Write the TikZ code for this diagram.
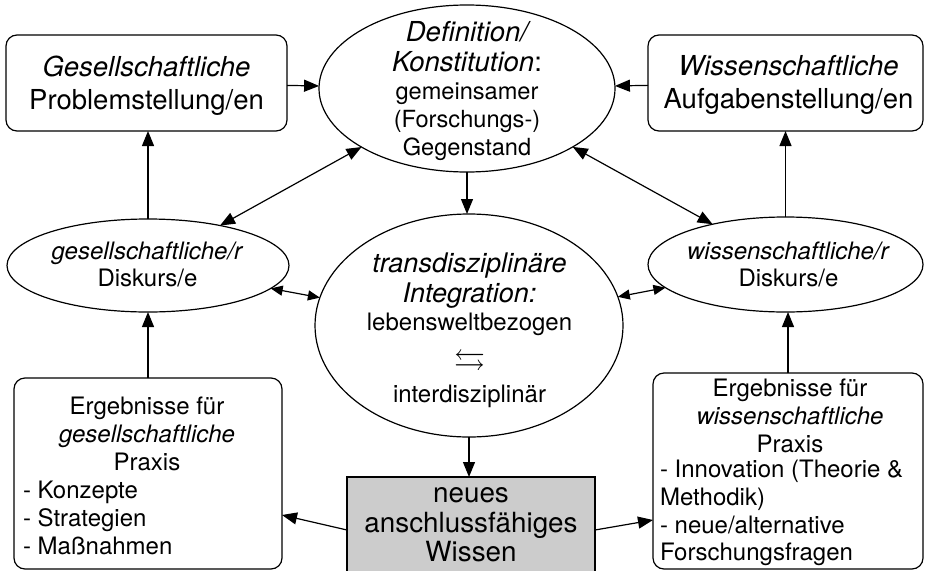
\documentclass[tikz,border=0pt]{standalone}
\usepackage{amssymb}
\usepackage{fontspec}
\setmainfont{TeX Gyre Heros}
\usetikzlibrary{arrows.meta,shapes.geometric}

\begin{document}
\begin{tikzpicture}[x=1pt,y=-1pt,
  every node/.style={inner sep=0pt, outer sep=0pt},
  shapeline/.style={draw, line width=1.2pt},
  oval/.style={shapeline, ellipse},
  rbox/.style={shapeline, rectangle, rounded corners=11pt},
  txt/.style={align=center, anchor=north},
  listtxt/.style={align=left, anchor=north west},
  arr/.style={line width=1.2pt, -{Triangle[length=15pt,width=12pt]}},
  darr/.style={line width=1.2pt, {Triangle[length=15pt,width=12pt]}-{Triangle[length=15pt,width=12pt]}},
  sdarr/.style={line width=1.2pt, {Triangle[length=12pt,width=10pt]}-{Triangle[length=12pt,width=10pt]}}
]
\useasboundingbox (0,0) rectangle (925,570);

% shapes
\node[oval, minimum width=296pt, minimum height=167pt] (def) at (467,88.5) {};
\node[oval, minimum width=308pt, minimum height=223pt] (mid) at (469,325.5) {};
\node[oval, minimum width=282pt, minimum height=93pt] (gd) at (148,265.5) {};
\node[oval, minimum width=275pt, minimum height=95pt] (wd) at (785.5,264.5) {};
\node[rbox, minimum width=281pt, minimum height=96pt] (tl) at (146.5,83) {};
\node[rbox, minimum width=275pt, minimum height=96pt] (tr) at (785.5,83) {};
\node[rbox, minimum width=268pt, minimum height=191pt] (bl) at (148,473.5) {};
\node[rbox, minimum width=270pt, minimum height=196pt] (br) at (788,471) {};
\node[shapeline, fill=gray!40, minimum width=248pt, minimum height=98pt] (gray) at (471,526) {};

% texts
\node[txt, font=\fontsize{27.5}{33}\selectfont] (tlT) at (146.5,55.7)
  {\textit{Gesellschaftliche}\\Problemstellung/en};
\node[txt, font=\fontsize{27.5}{33}\selectfont] (trT) at (788.5,55.7)
  {\textit{Wissenschaftliche}\\Aufgabenstellung/en};
\node[txt, font=\fontsize{23.6}{28}\selectfont] (defT) at (467,21.7)
  {{\fontsize{27.5}{28}\selectfont\itshape Definition/}\\[2pt]
   {\fontsize{27.5}{28}\selectfont\textit{Konstitution}:}\\
   gemeinsamer\\(Forschungs-)\\Gegenstand};
\node[txt, font=\fontsize{24}{27}\selectfont] (gdT) at (147.5,242.2)
  {\textit{gesellschaftliche/r}\\Diskurs/e};
\node[txt, font=\fontsize{24}{27}\selectfont] (wdT) at (788.5,242.2)
  {\textit{wissenschaftliche/r}\\Diskurs/e};
\node[txt, font=\fontsize{24}{28}\selectfont] (midT) at (469.5,253)
  {{\fontsize{27}{28}\selectfont\itshape transdisziplinäre}\\[2pt]
   {\fontsize{27}{28}\selectfont\itshape Integration:}\\
   lebensweltbezogen\\[12pt]
   {\fontsize{31}{28}\selectfont$\leftrightarrows$}\\[4pt]
   interdisziplinär};
\node[txt, font=\fontsize{24}{28}\selectfont] (blH) at (147,397.2)
  {Ergebnisse für\\\textit{gesellschaftliche}\\Praxis};
\node[listtxt, font=\fontsize{24}{28}\selectfont] (blL) at (23,480.7)
  {- Konzepte\\- Strategien\\- Maßnahmen};
\node[txt, font=\fontsize{24}{27.7}\selectfont] (brH) at (790,379.2)
  {Ergebnisse für\\\textit{wissenschaftliche}\\Praxis};
\node[listtxt, font=\fontsize{24}{27.7}\selectfont] (brL) at (660,460.2)
  {- Innovation (Theorie \&\\Methodik)\\- neue/alternative\\Forschungsfragen};
\node[txt, font=\fontsize{27.8}{29.5}\selectfont] (grayT) at (471,488)
  {neues\\anschlussfähiges\\Wissen};

% connectors
\draw[arr] (tl) -- (def);
\draw[arr] (tr) -- (def);
\draw[arr] (gd.north) -- (gd.north |- tl.south);
\draw[arr] (wd.north) -- (wd.north |- tr.south);
\draw[arr] (bl.north) -- (bl.north |- gd.south);
\draw[arr] (br.north) -- (br.north |- wd.south);
\draw[arr] (def.south) -- (def.south |- mid.north);
\draw[arr] (mid.south) -- (mid.south |- gray.north);
\draw[darr] (def) -- (gd);
\draw[darr] (def) -- (wd);
\draw[sdarr] (gd) -- (mid);
\draw[sdarr] (mid) -- (wd);
\draw[arr] ([yshift=-4pt]gray.west) -- ([yshift=-41.5pt]bl.east);
\draw[arr] ([yshift=-4pt]gray.east) -- ([yshift=-49pt]br.west);
\end{tikzpicture}
\end{document}
